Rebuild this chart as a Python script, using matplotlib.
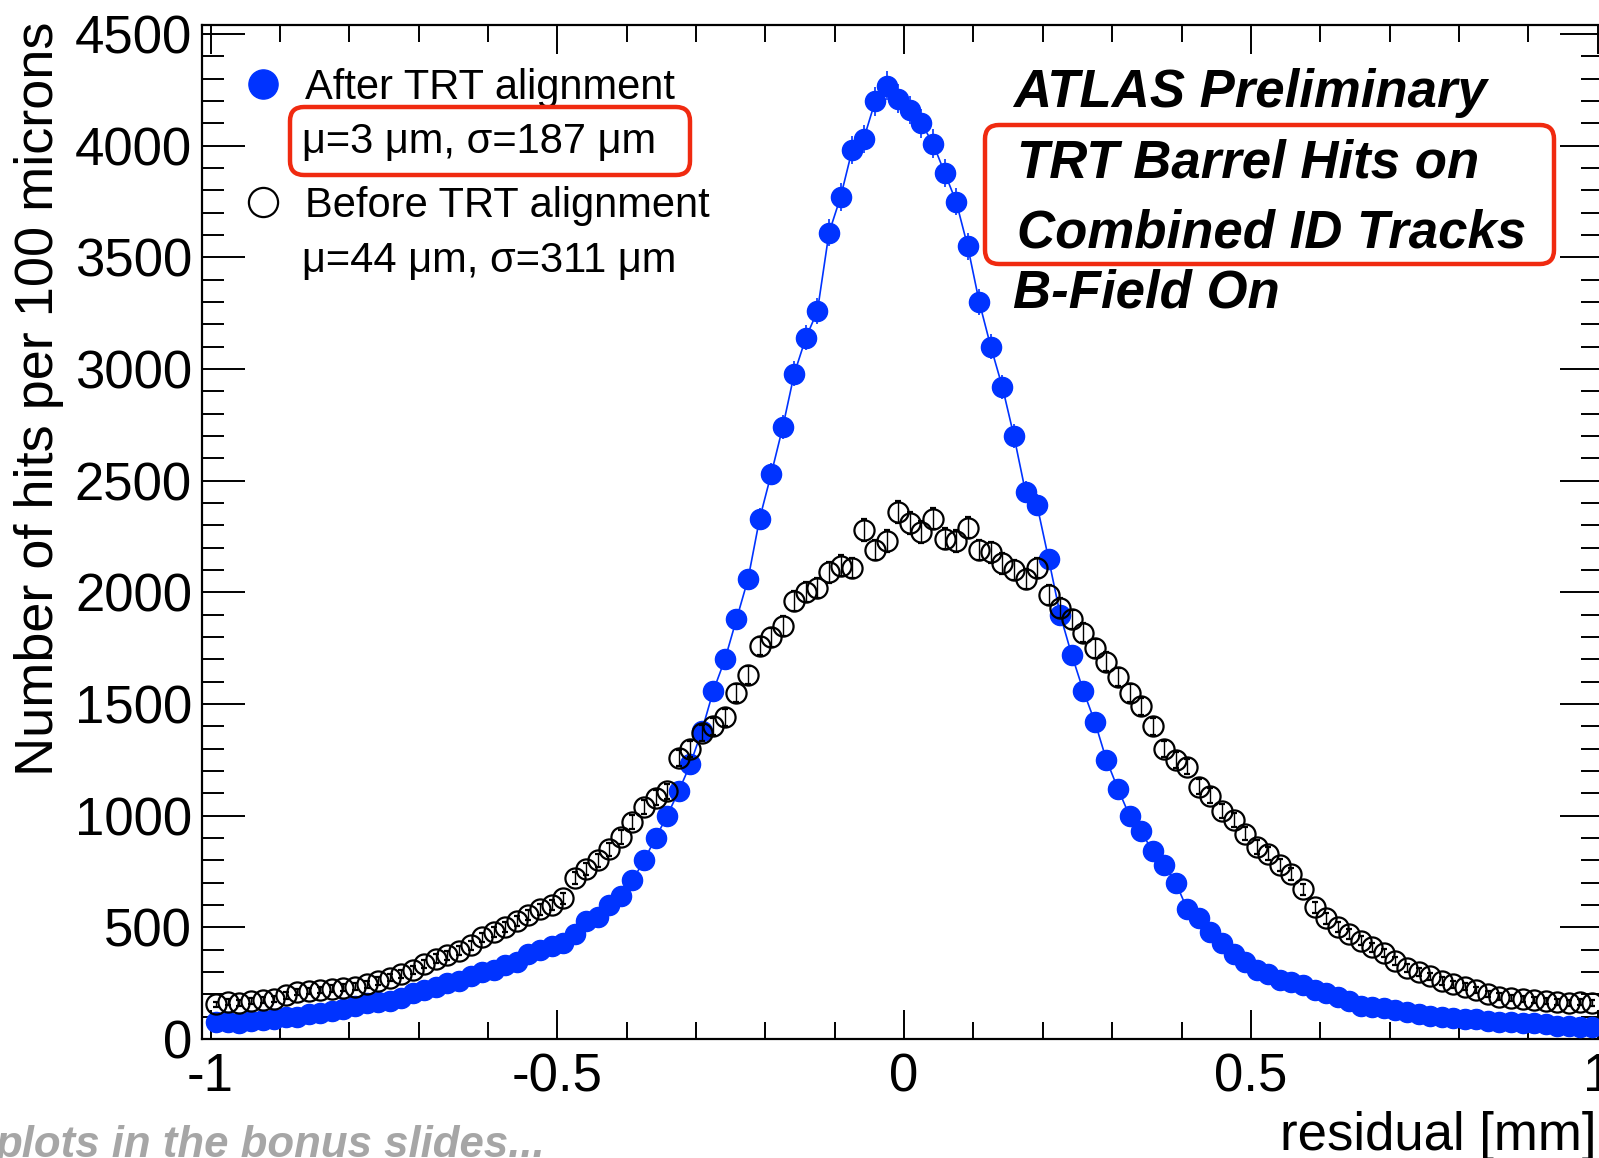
import numpy as np
import matplotlib
matplotlib.use("Agg")
import matplotlib.pyplot as plt
import matplotlib.transforms as mtransforms
from matplotlib.patches import FancyBboxPatch
from matplotlib.lines import Line2D
from matplotlib.ticker import MultipleLocator

plt.rcParams['font.family'] = ['Liberation Sans', 'DejaVu Sans']

# ---- data: residual histograms, 120 bins from -1 to 1 mm ----
bin_edges = np.linspace(-1.0, 1.0, 121)
after_counts = [
    75, 78, 72, 80, 85, 90, 100, 100, 110, 118,
    125, 135, 150, 160, 165, 170, 185, 205, 220, 235,
    250, 260, 280, 300, 310, 330, 345, 380, 400, 415,
    430, 470, 530, 545, 600, 640, 710, 800, 900, 1000,
    1110, 1230, 1380, 1560, 1700, 1880, 2060, 2330, 2530, 2740,
    2980, 3140, 3260, 3610, 3770, 3980, 4030, 4200, 4270, 4210,
    4160, 4100, 4010, 3880, 3750, 3550, 3300, 3100, 2920, 2700,
    2450, 2390, 2150, 1900, 1720, 1560, 1420, 1250, 1120, 1000,
    930, 840, 780, 700, 580, 540, 480, 430, 380, 345,
    310, 290, 265, 255, 240, 220, 205, 190, 170, 150,
    145, 138, 130, 120, 110, 103, 100, 95, 90, 88,
    80, 78, 75, 72, 70, 65, 60, 58, 55, 52]
before_counts = [
    155, 165, 160, 170, 175, 180, 195, 210, 215, 220,
    225, 230, 235, 245, 260, 275, 290, 310, 335, 360,
    375, 395, 420, 455, 480, 500, 530, 555, 580, 600,
    630, 720, 760, 800, 850, 905, 970, 1040, 1080, 1110,
    1260, 1300, 1370, 1400, 1440, 1550, 1630, 1760, 1800, 1850,
    1960, 2000, 2020, 2090, 2120, 2110, 2280, 2190, 2230, 2360,
    2310, 2270, 2330, 2240, 2230, 2290, 2190, 2180, 2130, 2100,
    2060, 2110, 1990, 1930, 1880, 1820, 1750, 1690, 1620, 1550,
    1490, 1400, 1300, 1250, 1220, 1130, 1090, 1020, 980, 920,
    860, 830, 780, 740, 670, 590, 540, 500, 470, 440,
    410, 385, 350, 320, 300, 280, 260, 245, 235, 220,
    200, 190, 185, 180, 175, 170, 165, 160, 165, 160]

after_label = "After TRT alignment"
after_stats = "\u03bc=3 \u03bcm, \u03c3=187 \u03bcm"
before_label = "Before TRT alignment"
before_stats = "\u03bc=44 \u03bcm, \u03c3=311 \u03bcm"
atlas_lines = ["ATLAS Preliminary", "TRT Barrel Hits on",
               "Combined ID Tracks", "B-Field On"]
xlabel = "residual [mm]"
ylabel = "Number of hits per 100 microns"
footer = "plots in the bonus slides..."

BLUE = '#0033ff'
RED = '#f02a10'

W, H = 1599, 1158
fig = plt.figure(figsize=(W / 100, H / 100), dpi=100)
fig.patch.set_facecolor('white')

def fx(px):
    return px / W

def fy(py):
    return 1 - py / H

ax_left, ax_right, ax_top, ax_bottom = 201.7, 1603.0, 25.0, 1039.0
ax = fig.add_axes([fx(ax_left), fy(ax_bottom), (ax_right - ax_left) / W,
                   (ax_bottom - ax_top) / H])

centers = 0.5 * (bin_edges[:-1] + bin_edges[1:])
after = np.array(after_counts, dtype=float)
before = np.array(before_counts, dtype=float)

ax.errorbar(centers, after, yerr=np.sqrt(after), fmt='-o', color=BLUE,
            ms=14.5, lw=1.2, elinewidth=1.2, capsize=0, zorder=3)
ax.errorbar(centers, before, yerr=np.sqrt(before), fmt='o', mfc='none',
            mec='black', mew=1.6, ms=14.5, ecolor='black', elinewidth=1.0,
            capsize=2, capthick=1.0, zorder=4)

ax.set_xlim(-1.0127, 1.0076)
ax.set_ylim(0, 4541)
ax.xaxis.set_major_locator(MultipleLocator(0.5))
ax.xaxis.set_minor_locator(MultipleLocator(0.1))
ax.yaxis.set_major_locator(MultipleLocator(500))
ax.yaxis.set_minor_locator(MultipleLocator(100))
ax.tick_params(which='both', direction='in', top=True, right=True,
               width=1.4, labelsize=38)
ax.tick_params(axis='y', which='major', length=31, pad=7)
ax.tick_params(axis='y', which='minor', length=16)
ax.tick_params(axis='x', which='major', length=21, pad=9.5)
ax.tick_params(axis='x', which='minor', length=12)
ax.xaxis.set_major_formatter(matplotlib.ticker.FuncFormatter(
    lambda v, p: '%g' % v))
for s in ax.spines.values():
    s.set_linewidth(1.6)

# axis titles
fig.text(fx(1596), fy(1150), xlabel, ha='right', va='baseline', fontsize=38)
fig.text(fx(53), fy(22), ylabel, rotation=90, rotation_mode='anchor',
         ha='right', va='baseline', fontsize=39)

# legend
handles = [Line2D([], [], ls='none', marker='o', color=BLUE, ms=21),
           Line2D([], [], ls='none', marker='o', mfc='none', mec='black',
                  mew=1.6, ms=21)]
leg = ax.legend(handles, [after_label, before_label], loc='upper left',
                bbox_to_anchor=((242.5 - ax_left) / (ax_right - ax_left),
                                (ax_bottom - 67.6) / (ax_bottom - ax_top)),
                frameon=False, fontsize=30, handlelength=1.0,
                handletextpad=0.5, labelspacing=1.87, borderpad=0,
                borderaxespad=0, numpoints=1)
fig.text(fx(302), fy(153), after_stats, ha='left', va='baseline', fontsize=30)
fig.text(fx(302), fy(272), before_stats, ha='left', va='baseline', fontsize=30)

# ATLAS labels
for txt, xb, yb in zip(atlas_lines, [1013, 1017, 1017, 1013],
                       [107, 178, 248, 307]):
    fig.text(fx(xb), fy(yb), txt, ha='left', va='baseline', fontsize=38,
             fontweight='bold', fontstyle='italic')

# footer (partly cut at the left edge, as in the original slide crop)
fig.text(fx(-4), fy(1157), footer, ha='left', va='baseline', fontsize=31.5,
         fontweight='bold', fontstyle='italic', color='#a6a6a6')

# red highlight boxes (pixel coords)
pix = mtransforms.Affine2D().scale(1 / W, 1 / H) + fig.transFigure
for (x0, y0, x1, y1) in [(290, 107, 690, 175), (985, 125, 1554, 264)]:
    p = FancyBboxPatch((x0, H - y1), x1 - x0, y1 - y0,
                       boxstyle='round,pad=0,rounding_size=14',
                       transform=pix, fill=False, ec=RED, lw=3.2)
    fig.add_artist(p)

fig.savefig('out.png', dpi=100)
